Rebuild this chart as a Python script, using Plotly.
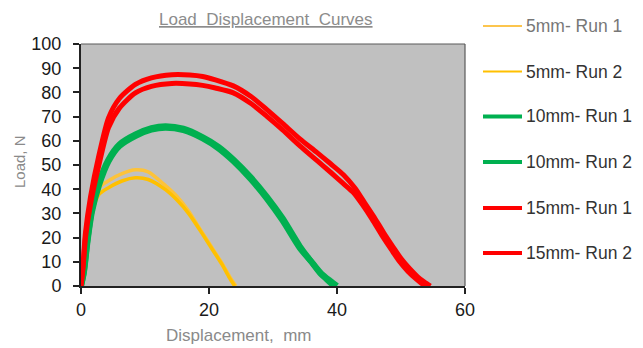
import plotly.graph_objects as go

# Load–displacement curves for three specimen sizes, two runs each
series_names = ["5mm- Run 1", "5mm- Run 2", "10mm- Run 1", "10mm- Run 2", "15mm- Run 1", "15mm- Run 2"]

disp_5_r1 = [0, 0.4, 1, 1.7, 2.8, 4.3, 6.5, 8.5, 10.5, 13.2, 15, 16.8, 18.6, 20.3, 22, 23.2, 24.2]
load_5_r1 = [0, 9, 22, 31.6, 40.6, 43.5, 46.5, 48, 47.2, 41.5, 37, 31, 23.5, 16.5, 9.5, 4, 0]
disp_5_r2 = [0, 0.4, 1, 1.7, 2.8, 4.3, 6.5, 8.5, 10.5, 13.2, 15, 16.8, 18.6, 20.3, 22, 23.1, 24]
load_5_r2 = [0, 8, 20, 30, 37.8, 40.6, 43.5, 44.7, 44, 39.8, 35.5, 30, 23, 16, 9, 3.8, 0]

disp_10_r1 = [0, 0.45, 1, 1.7, 2.8, 4.3, 6, 8.5, 11, 13.2, 16, 19, 21.5, 23.8, 26.5, 29, 31.5, 34.2, 36, 37.3, 38.5, 39.5]
load_10_r1 = [0, 6, 19, 31.6, 42.7, 52.3, 58.5, 62.6, 65.2, 66, 65, 61.5, 57.5, 52.3, 45, 37.1, 28, 16.4, 10, 5.5, 2.5, 0]
disp_10_r2 = [0, 0.45, 1, 1.7, 2.8, 4.3, 6, 8.5, 11, 13.2, 16, 19, 21.5, 23.8, 26.5, 29, 31.5, 34.2, 36.2, 37.6, 38.9, 40]
load_10_r2 = [0, 5.5, 18, 30.5, 41.5, 51.5, 57.8, 62, 64.6, 65.4, 64.4, 61, 56.8, 51.6, 44.2, 36.2, 27, 15.6, 9.4, 5, 2.2, 0]

disp_15_r1 = [0, 0.3, 0.7, 1.5, 2.8, 4.3, 6, 8.5, 11, 14.2, 17, 19, 21, 23.8, 26.5, 29, 31.5, 34.2, 36.8, 39,
              41, 42.8, 44.3, 45.8, 47.3, 48.8, 50.1, 51.4, 52.6, 53.6, 54.6]
load_15_r1 = [0, 8, 22, 37, 54, 69.5, 77.5, 83.3, 86, 87.3, 87.2, 86.6, 85.2, 82.7, 78.4, 73, 67.2, 60.8, 55.3, 50.5,
              46, 40.5, 34.5, 28.5, 22, 16, 11, 7, 3.8, 1.7, 0]
disp_15_r2 = [0, 0.3, 0.7, 1.5, 2.8, 4.3, 6, 8.5, 11, 14.2, 17, 19, 21, 23.8, 26.5, 29, 31.5, 34.2, 36.8, 39,
              41, 42.6, 44, 45.5, 47, 48.5, 49.8, 51.1, 52.4, 53.2, 54]
load_15_r2 = [0, 7, 20, 34, 50, 65.5, 73.5, 79.8, 82.5, 83.7, 83.5, 82.9, 81.8, 79.8, 75.5, 70.2, 64.5, 57.9, 52,
              47, 42.3, 38.5, 33.5, 27.5, 21, 15, 10, 6, 2.8, 1.1, 0]

x_values = [disp_5_r1, disp_5_r2, disp_10_r1, disp_10_r2, disp_15_r1, disp_15_r2]
y_values = [load_5_r1, load_5_r2, load_10_r1, load_10_r2, load_15_r1, load_15_r2]

line_colors = ["#FDC33A", "#FFC000", "#00B050", "#00B050", "#FF0000", "#FF0000"]
legend_colors = ["#FCC54E", "#FFC000", "#00B050", "#00B050", "#FF0000", "#FF0000"]
line_widths = [3.5, 3.5, 6, 6, 5, 5]
legend_widths = [2, 2, 4, 4, 4, 4]
legend_text_colors = ["#777777", "#333333", "#333333", "#333333", "#333333", "#333333"]

x_ticks = [0, 20, 40, 60]
y_ticks = [0, 10, 20, 30, 40, 50, 60, 70, 80, 90, 100]

W, H = 643, 348
ML, MR, MT, MB = 81, 178, 44, 62
PW, PH = W - ML - MR, H - MT - MB


def px_x(px):
    return (px - ML) / PW


def px_y(py):
    return (H - MB - py) / PH


fig = go.Figure()
for name, xs, ys, c, w in zip(series_names, x_values, y_values, line_colors, line_widths):
    fig.add_trace(go.Scatter(x=xs, y=ys, mode="lines", name=name,
                             line=dict(color=c, width=w, shape="spline", smoothing=0.7),
                             showlegend=False))

shapes = [
    dict(type="line", xref="paper", yref="paper", x0=0, x1=1, y0=1, y1=1,
         line=dict(color="#5a5a5a", width=1.2)),
    dict(type="line", xref="paper", yref="paper", x0=1, x1=1, y0=0, y1=1,
         line=dict(color="#5a5a5a", width=1.2)),
]
annotations = []

# Legend drawn beside the plot area
row_y = [26, 71.5, 116.5, 162, 208, 253]
for name, c, w, tc, ry in zip(series_names, legend_colors, legend_widths, legend_text_colors, row_y):
    shapes.append(dict(type="line", xref="paper", yref="paper",
                       x0=px_x(483), x1=px_x(522), y0=px_y(ry), y1=px_y(ry),
                       line=dict(color=c, width=w)))
    annotations.append(dict(xref="paper", yref="paper", x=px_x(524), y=px_y(ry),
                            xanchor="left", yanchor="middle", showarrow=False, text=name,
                            font=dict(family="Liberation Sans, Arial", size=17.5, color=tc)))

annotations.append(dict(xref="paper", yref="paper", x=px_x(19), y=px_y(162), textangle=-90,
                        xanchor="center", yanchor="middle", showarrow=False, text="Load, N",
                        font=dict(family="Liberation Sans, Arial", size=15, color="#8a8a8a")))
annotations.append(dict(xref="paper", yref="paper", x=px_x(238), y=px_y(335),
                        xanchor="center", yanchor="middle", showarrow=False,
                        text="Displacement,\u00a0 mm",
                        font=dict(family="Liberation Sans, Arial", size=17, color="#8a8a8a")))
annotations.append(dict(xref="paper", yref="paper", x=px_x(266), y=px_y(19),
                        xanchor="center", yanchor="middle", showarrow=False,
                        text="<u>Load\u00a0 Displacement\u00a0 Curves</u>",
                        font=dict(family="Liberation Sans, Arial", size=17, color="#8c8c8c")))

fig.update_layout(
    width=W, height=H,
    margin=dict(l=ML, r=MR, t=MT, b=MB, pad=0),
    paper_bgcolor="white",
    plot_bgcolor="#C0C0C0",
    showlegend=False,
    shapes=shapes,
    annotations=annotations,
    font=dict(family="Liberation Sans, Arial", color="#1a1a1a"),
)
fig.update_xaxes(range=[0, 60], tickvals=x_ticks, showgrid=False, zeroline=False,
                 showline=True, linecolor="#222222", linewidth=2,
                 ticks="outside", ticklen=6, tickwidth=1.5, tickcolor="#222222",
                 tickfont=dict(size=18, color="#1a1a1a"))
fig.update_yaxes(range=[0, 100], tickvals=y_ticks, showgrid=False, zeroline=False,
                 showline=True, linecolor="#222222", linewidth=2,
                 ticks="outside", ticklen=6, tickwidth=1.5, tickcolor="#222222",
                 ticklabelstandoff=8,
                 tickfont=dict(size=18, color="#1a1a1a"))

fig.write_html("out.html")
